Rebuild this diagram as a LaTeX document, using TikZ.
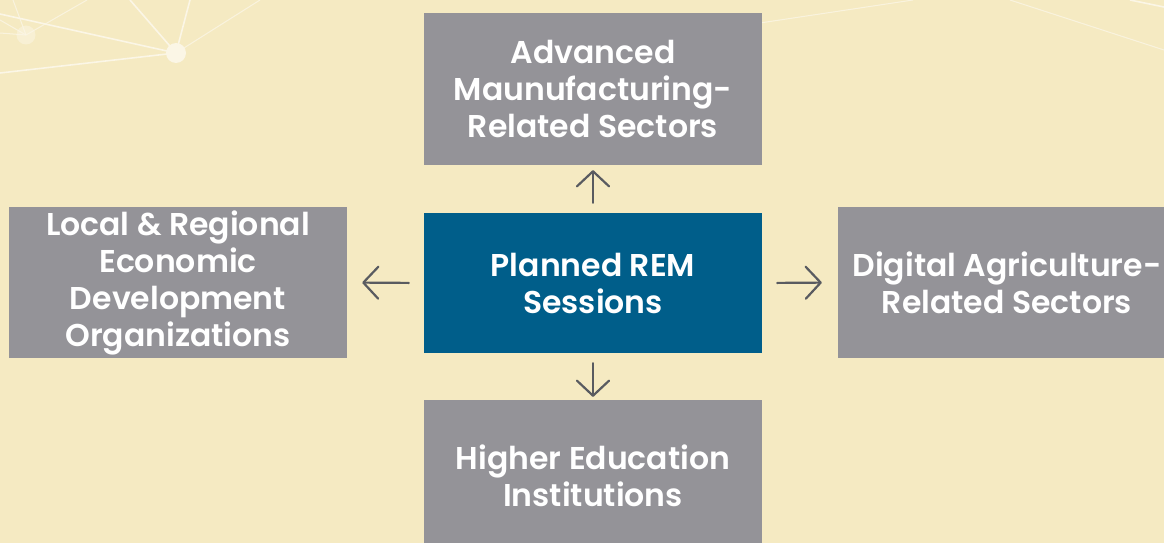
\documentclass[tikz,border=0pt]{standalone}
\usepackage{fontspec}
\setmainfont{Poppins}[BoldFont={Poppins SemiBold}]
\usetikzlibrary{arrows.meta}
\definecolor{bg}{HTML}{F5EAC2}
\definecolor{boxgray}{HTML}{949398}
\definecolor{boxblue}{HTML}{005E8A}
\definecolor{arrowgray}{HTML}{595B60}
\definecolor{netline}{HTML}{FBF6E6}
\tikzset{
  box/.style={fill=boxgray, text=white, minimum width=338pt, inner sep=0pt, align=center,
    font=\fontsize{31.5}{37}\selectfont\bfseries},
  hub/.style={box, fill=boxblue},
  conn/.style={draw=arrowgray, line width=2.2pt, line cap=round,
    -{Straight Barb[length=15pt,width=32pt,line width=2.2pt,line cap=round,line join=round]}},
  net/.style={draw=netline, line width=1.6pt},
  faint/.style={draw=netline, line width=1pt, opacity=0.8},
}
\begin{document}
\begin{tikzpicture}[x=1pt,y=-1pt]
\path[use as bounding box, fill=bg] (0,0) rectangle (1164,543);
\clip (0,0) rectangle (1164,543);
% background network
\coordinate (nA) at (26,35);
\coordinate (nB) at (176,53);
\draw[net] (0,14) -- (nB);
\draw[net] (0,73) -- (nB);
\draw[net] (130,0) -- (nB);
\draw[net] (190,0) -- (nB);
\draw[faint] (260,0) -- (nB);
\draw[faint] (13,0) -- (nA);
\draw[faint] (87,0) -- (nA);
\draw[faint] (0,20) -- (nA);
\draw[faint] (0,33) -- (nA);
\fill[netline, opacity=0.5] (nA) circle (9.5);
\fill[netline] (nB) circle (10);
\draw[faint] (700,32) -- (913,0);
\draw[faint] (1010,0) -- (1164,50);
\draw[net] (1130,0) -- (1164,7);
% boxes
\node[hub, minimum height=140pt] (hub) at (593,283) {Planned REM\\Sessions};
\node[box, minimum height=152pt] (top) at (593,89) {Advanced\\Maunufacturing-\\Related Sectors};
\node[box, minimum height=152pt] (bot) at (593,476) {Higher Education\\Institutions};
\node[box, minimum height=151pt] (left) at (178,282.5) {Local \& Regional\\Economic\\Development\\Organizations};
\node[box, minimum height=151pt] (right) at (1007,282.5) {Digital Agriculture-\\Related Sectors};
% connectors
\draw[conn, shorten <=10pt, shorten >=5pt] (hub.north) -- (top.south);
\draw[conn, shorten <=10pt, shorten >=3pt] (hub.south) -- (bot.north);
\draw[conn, shorten <=15pt, shorten >=15pt] (hub.west) -- (left.east);
\draw[conn, shorten <=15pt, shorten >=16pt] (hub.east) -- (right.west);
\end{tikzpicture}
\end{document}
